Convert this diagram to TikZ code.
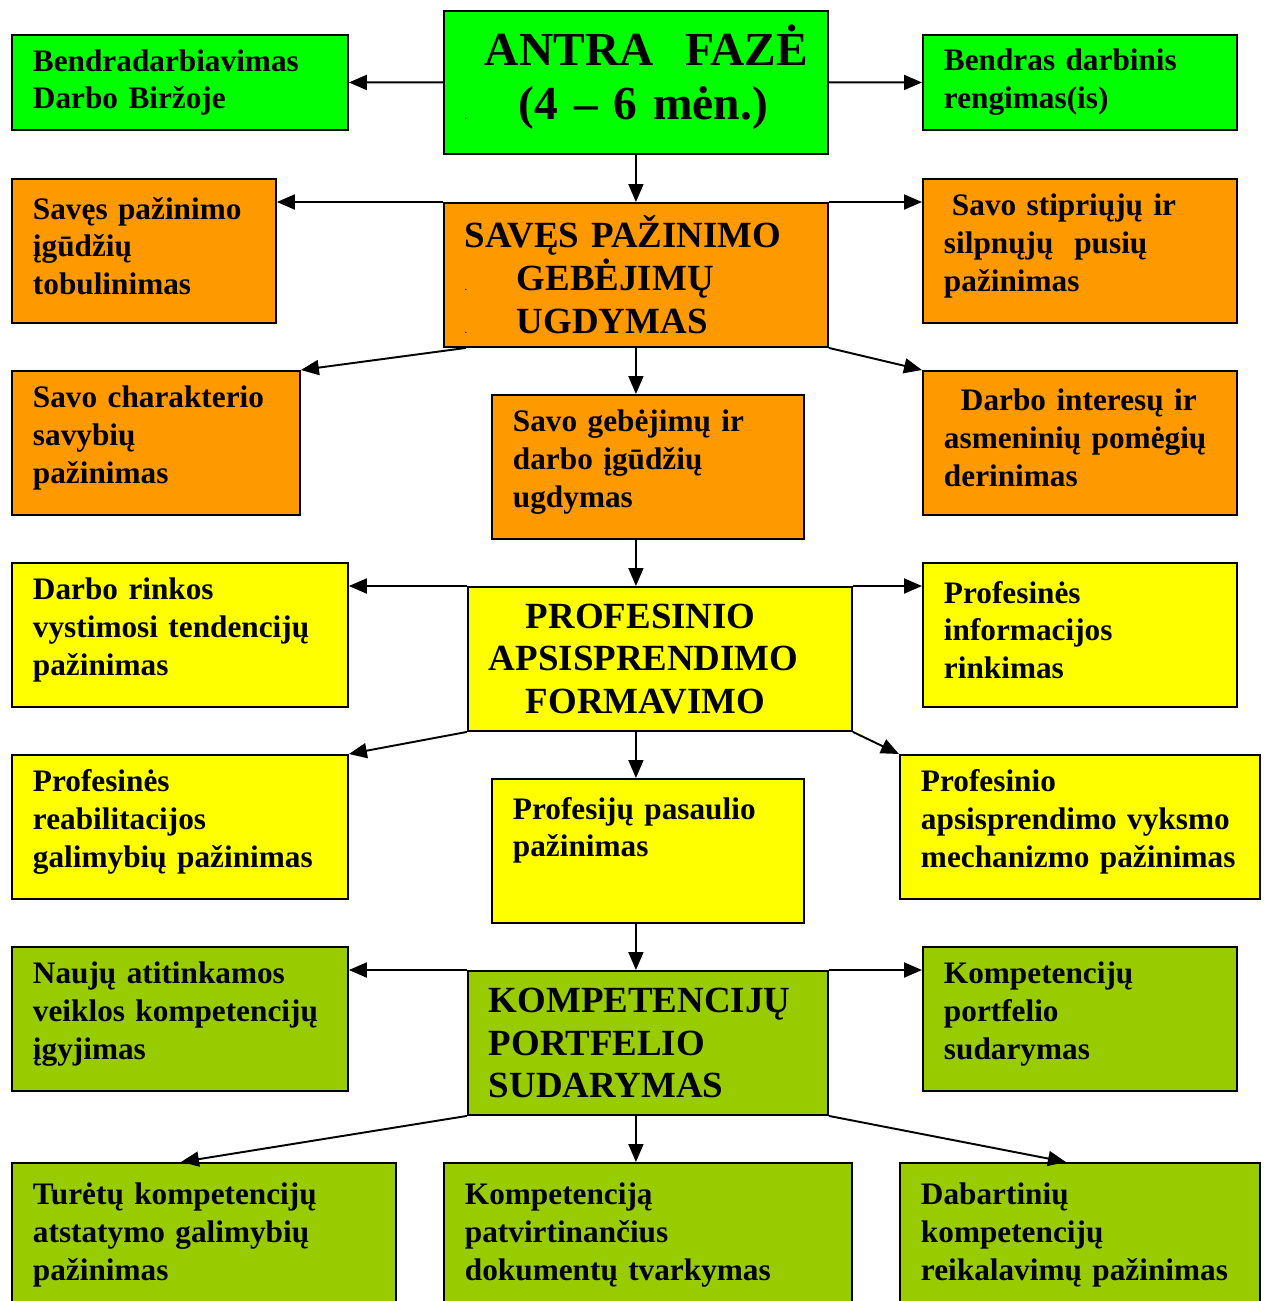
\documentclass[tikz,border=0pt]{standalone}
\usepackage{fontspec}
\setmainfont{Liberation Serif}
\usetikzlibrary{arrows.meta}
\definecolor{fazegreen}{HTML}{00FF00}
\definecolor{savesorange}{HTML}{FF9900}
\definecolor{profyellow}{HTML}{FFFF00}
\definecolor{kompgreen}{HTML}{99CC00}
\newcommand\tinydot{{\fontsize{5}{5}\selectfont.}}
\begin{document}
\begin{tikzpicture}[x=0.02cm,y=-0.02cm,line width=1.1pt]
        \tikzstyle{box}=[draw,anchor=north west,inner xsep=0.42cm,inner ysep=0pt,align=left,font=\bfseries\fontsize{17.8}{21.5}\selectfont]
        \tikzstyle{head}=[font=\bfseries\fontsize{21}{24.4}\selectfont]
        \tikzstyle{lift}=[execute at end node={\endgraf\vspace{0.2cm}}]
        \tikzstyle{arr}=[-{Triangle[length=0.36cm,width=0.3cm]}]
        \useasboundingbox (0,0) rectangle (1267,1301);
        \clip (0,0) rectangle (1267,1301);
        \node[box,lift,fill=fazegreen,minimum width=7.68cm,text width=6.84cm,minimum height=2.86cm,font=\bfseries\fontsize{27}{31}\selectfont] (faze) at (443,10) {\mbox{\hspace*{0.4cm}ANTRA\ \ FAZĖ}\\\makebox[1.08cm][l]{\tinydot}(4 – 6 mėn.)};
        \node[box,fill=fazegreen,minimum width=6.72cm,text width=5.88cm,minimum height=1.9cm] (bendradarb) at (11,34) {Bendradarbiavimas\\Darbo Biržoje};
        \node[box,fill=fazegreen,minimum width=6.28cm,text width=5.44cm,minimum height=1.9cm] (bendras) at (922,34) {Bendras darbinis\\rengimas(is)};
        \node[box,head,fill=savesorange,minimum width=7.68cm,text width=6.84cm,minimum height=2.88cm] (saves) at (443,202) {SAVĘS PAŽINIMO\\\makebox[1.04cm][l]{\tinydot}GEBĖJIMŲ\\\makebox[1.04cm][l]{\tinydot}UGDYMAS};
        \node[box,lift,fill=savesorange,minimum width=5.28cm,text width=4.44cm,minimum height=2.88cm] (igudziai) at (11,178) {Savęs pažinimo\\įgūdžių\\tobulinimas};
        \node[box,lift,fill=savesorange,minimum width=6.28cm,text width=5.44cm,minimum height=2.88cm] (stiprios) at (922,178) {\hspace*{0.16cm}Savo stipriųjų ir\\silpnųjų\ \ pusių\\pažinimas};
        \node[box,lift,fill=savesorange,minimum width=5.76cm,text width=4.92cm,minimum height=2.88cm] (charakteris) at (11,370) {Savo charakterio\\savybių\\pažinimas};
        \node[box,lift,fill=savesorange,minimum width=6.24cm,text width=5.4cm,minimum height=2.88cm] (gebejimai) at (491,394) {Savo gebėjimų ir\\darbo įgūdžių\\ugdymas};
        \node[box,lift,fill=savesorange,minimum width=6.28cm,text width=5.44cm,minimum height=2.88cm] (interesai) at (922,370) {\hspace*{0.34cm}Darbo interesų ir\\asmeninių pomėgių\\derinimas};
        \node[box,head,fill=profyellow,minimum width=7.68cm,text width=6.84cm,minimum height=2.88cm] (apsisprendimas) at (467,586) {\hspace*{0.74cm}PROFESINIO\\APSISPRENDIMO\\\hspace*{0.74cm}FORMAVIMO};
        \node[box,lift,fill=profyellow,minimum width=6.72cm,text width=5.88cm,minimum height=2.88cm] (rinka) at (11,562) {Darbo rinkos\\vystimosi tendencijų\\pažinimas};
        \node[box,lift,fill=profyellow,minimum width=6.28cm,text width=5.44cm,minimum height=2.88cm] (informacija) at (922,562) {Profesinės\\informacijos\\rinkimas};
        \node[box,lift,fill=profyellow,minimum width=6.72cm,text width=5.88cm,minimum height=2.88cm] (reabilitacija) at (11,754) {Profesinės\\reabilitacijos\\galimybių pažinimas};
        \node[box,lift,fill=profyellow,minimum width=6.24cm,text width=5.4cm,minimum height=2.88cm] (pasaulis) at (491,778) {Profesijų pasaulio\\pažinimas\\\mbox{}};
        \node[box,lift,fill=profyellow,minimum width=7.2cm,text width=6.36cm,minimum height=2.88cm] (vyksmas) at (899,754) {Profesinio\\apsisprendimo vyksmo\\mechanizmo pažinimas};
        \node[box,head,fill=kompgreen,minimum width=7.2cm,text width=6.36cm,minimum height=2.88cm] (portfelis) at (467,970) {KOMPETENCIJŲ\\PORTFELIO\\SUDARYMAS};
        \node[box,lift,fill=kompgreen,minimum width=6.72cm,text width=5.88cm,minimum height=2.88cm] (naujos) at (11,946) {Naujų atitinkamos\\veiklos kompetencijų\\įgyjimas};
        \node[box,lift,fill=kompgreen,minimum width=6.28cm,text width=5.44cm,minimum height=2.88cm] (sudarymas) at (922,946) {Kompetencijų\\portfelio\\sudarymas};
        \node[box,fill=kompgreen,minimum width=7.68cm,text width=6.84cm,minimum height=2.88cm] (turetos) at (11,1162) {Turėtų kompetencijų\\atstatymo galimybių\\pažinimas};
        \node[box,fill=kompgreen,minimum width=8.16cm,text width=7.32cm,minimum height=2.88cm] (dokumentai) at (443,1162) {Kompetenciją\\patvirtinančius\\dokumentų tvarkymas};
        \node[box,fill=kompgreen,minimum width=7.2cm,text width=6.36cm,minimum height=2.88cm] (dabartines) at (899,1162) {Dabartinių\\kompetencijų\\reikalavimų pažinimas};
        \draw[arr] (faze.west) -- (bendradarb.east);
        \draw[arr] (faze.east) -- (bendras.west);
        \draw[arr] (faze.south) -- (saves.north);
        \draw[arr] (saves.north west) -- (saves.north west -| igudziai.east);
        \draw[arr] (saves.north east) -- (saves.north east -| stiprios.west);
        \draw[arr] ([xshift=0.46cm]saves.south west) -- (charakteris.north east);
        \draw[arr] (saves.south) -- (saves.south |- gebejimai.north);
        \draw[arr] (saves.south east) -- (interesai.north west);
        \draw[arr] (gebejimai.south -| saves.south) -- (apsisprendimas.north -| saves.south);
        \draw[arr] (apsisprendimas.north west) -- (apsisprendimas.north west -| rinka.east);
        \draw[arr] (apsisprendimas.north east) -- (apsisprendimas.north east -| informacija.west);
        \draw[arr] (apsisprendimas.south west) -- (reabilitacija.north east);
        \draw[arr] (apsisprendimas.south -| saves.south) -- (pasaulis.north -| saves.south);
        \draw[arr] (apsisprendimas.south east) -- (vyksmas.north west);
        \draw[arr] (pasaulis.south -| saves.south) -- (portfelis.north -| saves.south);
        \draw[arr] (portfelis.north west) -- (portfelis.north west -| naujos.east);
        \draw[arr] (portfelis.north east) -- (portfelis.north east -| sudarymas.west);
        \draw[arr] (portfelis.south west) -- ([xshift=-0.46cm]turetos.north);
        \draw[arr] (portfelis.south -| saves.south) -- (dokumentai.north -| saves.south);
        \draw[arr] (portfelis.south east) -- ([xshift=-0.28cm]dabartines.north);
\end{tikzpicture}
\end{document}
